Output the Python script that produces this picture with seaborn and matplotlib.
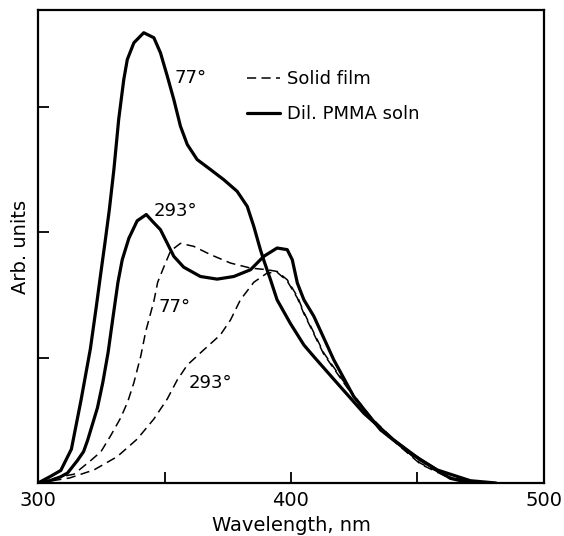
import matplotlib
matplotlib.use("Agg")
import matplotlib.pyplot as plt
import seaborn as sns

# Emission spectra (arbitrary units)
sol77_nm = [300, 304.7, 309, 313.2, 317, 320.7, 323.0, 325.0, 326.5, 328.2, 330.0, 331.9,
            333.9, 335.3, 337.9, 341.8, 345.8, 348.4, 351.1, 353.7, 356.3, 359.0, 362.9,
            368.2, 373.4, 378.7, 382.7, 385.3, 387.9, 389.5, 391.9, 394.5, 399.8, 405.1,
            409.0, 418.3, 428.8, 440.6, 451.2, 463.0, 471]
sol77_y = [0, 0.05, 0.10, 0.27, 0.66, 1.07, 1.40, 1.70, 1.92, 2.18, 2.50, 2.90,
           3.216, 3.376, 3.509, 3.589, 3.549, 3.429, 3.243, 3.055, 2.844, 2.698, 2.578,
           2.498, 2.418, 2.325, 2.205, 2.045, 1.86, 1.76, 1.62, 1.46, 1.27, 1.10,
           1.008, 0.795, 0.556, 0.343, 0.184, 0.037, 0]

sol293_nm = [300, 305, 309, 311.7, 315.6, 318, 319.6, 323.5, 325.6, 327.7, 329.7, 331.6,
             333.3, 335.9, 339.2, 342.8, 345.5, 348.4, 353.7, 357.6, 364.2, 370.8, 377.4,
             384.0, 389.2, 394.5, 398.5, 400.5, 402.5, 405.1, 409.0, 416.9, 424.8, 435.4,
             447.2, 457.8, 470.9, 481]
sol293_y = [0, 0.02, 0.05, 0.08, 0.18, 0.25, 0.34, 0.60, 0.80, 1.04, 1.33, 1.60,
            1.78, 1.95, 2.09, 2.14, 2.08, 2.019, 1.806, 1.72, 1.646, 1.625, 1.646,
            1.70, 1.806, 1.873, 1.86, 1.78, 1.594, 1.46, 1.33, 0.982, 0.689, 0.423,
            0.237, 0.104, 0.018, 0]

dash77_nm = [300, 309, 314.2, 320.9, 324.9, 328.8, 332.7, 335.5, 337.9, 340.6, 342.6, 345.8,
             347.3, 349.7, 352.4, 356.3, 361.6, 368.2, 376.1, 384.0, 390.6, 394.5, 398.5,
             402.5, 405.1, 413.0, 422.2, 431.4, 442.0, 451.2, 462, 475]
dash77_y = [0, 0.05, 0.07, 0.18, 0.25, 0.38, 0.52, 0.65, 0.80, 1.01, 1.21, 1.45,
            1.60, 1.72, 1.85, 1.91, 1.886, 1.82, 1.753, 1.713, 1.70, 1.686, 1.62,
            1.487, 1.36, 1.035, 0.769, 0.529, 0.317, 0.157, 0.05, 0]

dash293_nm = [300, 312.5, 322.1, 331.3, 339.2, 345.8, 351.1, 355.0, 359.0, 365.5, 372.1, 376.1,
              380.0, 385.3, 390.6, 394.5, 398.5, 402.5, 405.1, 413.0, 422.2, 431.4, 442.0,
              451.2, 462, 475]
dash293_y = [0, 0.04, 0.104, 0.21, 0.35, 0.51, 0.67, 0.82, 0.94, 1.061, 1.181, 1.30,
             1.46, 1.60, 1.674, 1.68, 1.61, 1.475, 1.35, 1.025, 0.76, 0.52, 0.31,
             0.15, 0.045, 0]

x_ticks = [300, 350, 400, 450, 500]
x_labels = ["300", "", "400", "", "500"]
y_ticks = [1, 2, 3]

sns.set_style("ticks", {"axes.edgecolor": "black", "text.color": "black",
                        "xtick.color": "black", "ytick.color": "black",
                        "axes.labelcolor": "black"})
plt.rcParams['font.family'] = ['DejaVu Sans']

fig = plt.figure(figsize=(5.64, 5.36), dpi=100)
ax = fig.add_axes([0.0674, 0.0989, 0.8971, 0.8824])

solid_kw = dict(color="black", linewidth=2.3, solid_joinstyle="round", solid_capstyle="round")
dash_kw = dict(color="black", linewidth=1.1, dashes=(6, 3.5))

sns.lineplot(x=sol77_nm, y=sol77_y, ax=ax, sort=False, label="Dil. PMMA soln", **solid_kw)
sns.lineplot(x=sol293_nm, y=sol293_y, ax=ax, sort=False, **solid_kw)
sns.lineplot(x=dash77_nm, y=dash77_y, ax=ax, sort=False, label="Solid film", **dash_kw)
sns.lineplot(x=dash293_nm, y=dash293_y, ax=ax, sort=False, **dash_kw)

# curve labels
ax.text(353.8, 3.23, "77°", fontsize=13, va="center", ha="left")
ax.text(345.8, 2.17, "293°", fontsize=13, va="center", ha="left")
ax.text(347.5, 1.40, "77°", fontsize=13, va="center", ha="left")
ax.text(359.6, 0.80, "293°", fontsize=13, va="center", ha="left")

handles, labels = ax.get_legend_handles_labels()
ax.legend(handles[::-1], labels[::-1], loc="upper left", bbox_to_anchor=(0.413, 0.873),
          frameon=False, fontsize=13, handlelength=1.85, handletextpad=0.35,
          labelspacing=0.95, borderpad=0, borderaxespad=0)

ax.set_xlim(300, 500)
ax.set_ylim(0, 3.77)
ax.set_xticks(x_ticks)
ax.set_xticklabels(x_labels, fontsize=14)
ax.set_yticks(y_ticks)
ax.set_yticklabels([])
ax.tick_params(direction="in", length=8, width=1.3, pad=6)
for s in ax.spines.values():
    s.set_linewidth(1.6)
    s.set_visible(True)

ax.set_xlabel("Wavelength, nm", fontsize=14, labelpad=4)
ax.set_ylabel("Arb. units", fontsize=14, labelpad=0)

fig.savefig("out.png", dpi=100)
